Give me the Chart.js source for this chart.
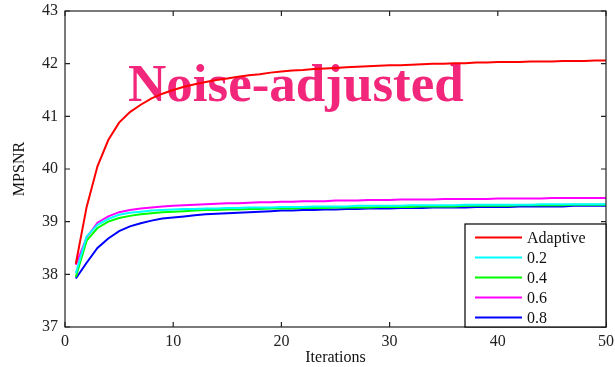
<!DOCTYPE html>
<html>
<head>
<meta charset="utf-8">
<script src="https://cdn.jsdelivr.net/npm/chart.js@4.4.1/dist/chart.umd.min.js"></script>
<style>
  html, body { margin: 0; padding: 0; background: #fff; }
  #wrap { width: 615px; height: 367px; }
</style>
</head>
<body>
<div id="wrap"><canvas id="chart"></canvas></div>
<script>
const iterations = Array.from({ length: 50 }, (_, i) => i + 1);

const adaptive = [38.20, 39.28, 40.05, 40.55, 40.88, 41.08, 41.22, 41.34, 41.43, 41.50,
  41.56, 41.61, 41.65, 41.69, 41.72, 41.75, 41.78, 41.80, 41.83, 41.85,
  41.87, 41.88, 41.90, 41.91, 41.92, 41.93, 41.94, 41.95, 41.96, 41.97,
  41.97, 41.98, 41.99, 42.00, 42.00, 42.01, 42.01, 42.02, 42.02, 42.03,
  42.03, 42.03, 42.04, 42.04, 42.04, 42.05, 42.05, 42.05, 42.06, 42.06];
const r02 = [38.02, 38.72, 38.94, 39.05, 39.13, 39.17, 39.19, 39.21, 39.22, 39.23,
  39.24, 39.24, 39.25, 39.25, 39.26, 39.26, 39.27, 39.27, 39.27, 39.28,
  39.28, 39.28, 39.29, 39.29, 39.29, 39.29, 39.30, 39.30, 39.30, 39.30,
  39.30, 39.31, 39.31, 39.31, 39.31, 39.31, 39.32, 39.32, 39.32, 39.32,
  39.32, 39.32, 39.32, 39.33, 39.33, 39.33, 39.33, 39.33, 39.33, 39.33];
const r04 = [37.95, 38.64, 38.88, 39.00, 39.07, 39.11, 39.14, 39.16, 39.18, 39.19,
  39.20, 39.21, 39.22, 39.22, 39.23, 39.23, 39.24, 39.24, 39.25, 39.25,
  39.25, 39.26, 39.26, 39.26, 39.27, 39.27, 39.27, 39.27, 39.28, 39.28,
  39.28, 39.28, 39.29, 39.29, 39.29, 39.29, 39.30, 39.30, 39.30, 39.30,
  39.30, 39.31, 39.31, 39.31, 39.31, 39.31, 39.32, 39.32, 39.32, 39.32];
const r06 = [38.18, 38.70, 38.98, 39.10, 39.18, 39.22, 39.25, 39.27, 39.29, 39.30,
  39.31, 39.32, 39.33, 39.34, 39.35, 39.35, 39.36, 39.37, 39.37, 39.38,
  39.38, 39.39, 39.39, 39.39, 39.40, 39.40, 39.40, 39.41, 39.41, 39.41,
  39.42, 39.42, 39.42, 39.42, 39.43, 39.43, 39.43, 39.43, 39.43, 39.44,
  39.44, 39.44, 39.44, 39.44, 39.45, 39.45, 39.45, 39.45, 39.45, 39.45];
const r08 = [37.92, 38.22, 38.50, 38.68, 38.82, 38.91, 38.97, 39.02, 39.06, 39.08,
  39.10, 39.12, 39.14, 39.15, 39.16, 39.17, 39.18, 39.19, 39.20, 39.21,
  39.21, 39.22, 39.22, 39.23, 39.23, 39.24, 39.24, 39.25, 39.25, 39.25,
  39.26, 39.26, 39.26, 39.27, 39.27, 39.27, 39.27, 39.28, 39.28, 39.28,
  39.28, 39.29, 39.29, 39.29, 39.29, 39.29, 39.30, 39.30, 39.30, 39.30];

const seriesNames = ['Adaptive', '0.2', '0.4', '0.6', '0.8'];
const seriesValues = [adaptive, r02, r04, r06, r08];
const seriesColors = ['#ff0000', '#00ffff', '#00ff00', '#ff00ff', '#0000ff'];
const xTicks = [0, 10, 20, 30, 40, 50];
const yTicks = [37, 38, 39, 40, 41, 42, 43];

const serif = '"Liberation Serif", "DejaVu Serif", serif';

// MATLAB-like frame with inward ticks, the big label and the boxed legend
const matlabLook = {
  id: 'matlabLook',
  beforeDatasetsDraw(chart) {
    const ctx = chart.ctx;
    ctx.save();
    ctx.fillStyle = '#f2277b';
    ctx.font = 'bold 53px ' + serif;
    ctx.textBaseline = 'alphabetic';
    ctx.fillText('Noise-adjusted', 128, 101);
    ctx.restore();
  },
  afterDraw(chart) {
    const { ctx, chartArea: a, scales } = chart;
    ctx.save();
    ctx.strokeStyle = '#222';
    ctx.lineWidth = 1.2;
    ctx.strokeRect(a.left, a.top, a.right - a.left, a.bottom - a.top);
    ctx.beginPath();
    xTicks.forEach(v => {
      const x = scales.x.getPixelForValue(v);
      ctx.moveTo(x, a.bottom); ctx.lineTo(x, a.bottom - 5);
      ctx.moveTo(x, a.top); ctx.lineTo(x, a.top + 5);
    });
    yTicks.forEach(v => {
      const y = scales.y.getPixelForValue(v);
      ctx.moveTo(a.left, y); ctx.lineTo(a.left + 5, y);
      ctx.moveTo(a.right, y); ctx.lineTo(a.right - 5, y);
    });
    ctx.stroke();

    // legend box
    const bx = 465, by = 224, bw = a.right - bx, bh = a.bottom - by;
    ctx.fillStyle = '#fff';
    ctx.fillRect(bx, by, bw, bh);
    ctx.strokeStyle = '#000';
    ctx.lineWidth = 1.2;
    ctx.strokeRect(bx, by, bw, bh);
    ctx.font = '16px ' + serif;
    ctx.textBaseline = 'middle';
    chart.data.datasets.forEach((ds, i) => {
      const y = by + 13.5 + i * 20;
      ctx.strokeStyle = ds.borderColor;
      ctx.lineWidth = 2;
      ctx.beginPath();
      ctx.moveTo(475, y); ctx.lineTo(522, y);
      ctx.stroke();
      ctx.fillStyle = '#111';
      ctx.fillText(ds.label, 527, y + 1);
    });
    ctx.restore();
  }
};

const noOverflow = s => { s.paddingTop = 0; s.paddingBottom = 0; s.paddingLeft = 0; s.paddingRight = 0; };

new Chart(document.getElementById('chart'), {
  type: 'line',
  data: {
    datasets: seriesNames.map((name, i) => ({
      label: name,
      data: iterations.map((it, j) => ({ x: it, y: seriesValues[i][j] })),
      borderColor: seriesColors[i],
      backgroundColor: seriesColors[i],
      borderWidth: 2,
      pointRadius: 0,
      tension: 0
    }))
  },
  options: {
    responsive: true,
    maintainAspectRatio: false,
    animation: false,
    layout: { padding: { top: 11, right: 9, left: 0, bottom: 0 } },
    plugins: {
      legend: { display: false },
      tooltip: { enabled: false }
    },
    scales: {
      x: {
        type: 'linear',
        min: 0, max: 50,
        afterBuildTicks: s => { s.ticks = xTicks.map(v => ({ value: v })); },
        afterFit: s => { s.height = 40; noOverflow(s); },
        grid: { display: false, drawTicks: false },
        border: { display: false },
        ticks: { color: '#222', font: { family: serif, size: 16 }, padding: 5, maxRotation: 0 },
        title: { display: true, text: 'Iterations', color: '#111', font: { family: serif, size: 16 }, padding: { top: 0, bottom: 0 } }
      },
      y: {
        min: 37, max: 43,
        afterBuildTicks: s => { s.ticks = yTicks.map(v => ({ value: v })); },
        afterFit: s => { s.width = 65; noOverflow(s); },
        grid: { display: false, drawTicks: false },
        border: { display: false },
        ticks: { color: '#222', font: { family: serif, size: 16 }, padding: 7 },
        title: { display: true, text: 'MPSNR', color: '#111', font: { family: serif, size: 16 }, padding: { top: 10, bottom: 0 } }
      }
    }
  },
  plugins: [matlabLook]
});
</script>
</body>
</html>
